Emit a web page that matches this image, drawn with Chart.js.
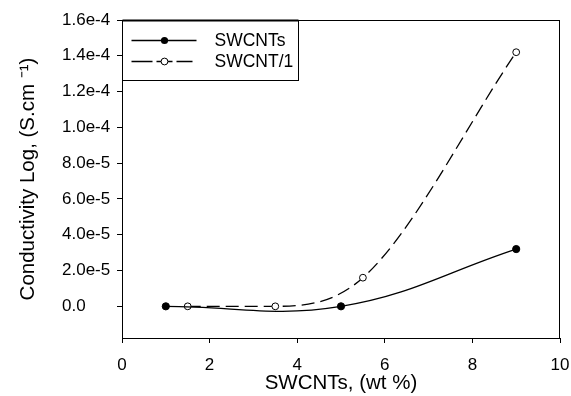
<!DOCTYPE html>
<html><head><meta charset="utf-8">
<script src="https://cdn.jsdelivr.net/npm/chart.js@4"></script>
<style>html,body{margin:0;padding:0;background:#fff}#wrap{width:571px;height:396px}</style>
</head><body><div id="wrap"><canvas id="c" width="571" height="396"></canvas></div>
<script>
const seriesNames = ['SWCNTs', 'SWCNT/1'];
const swcntX = [1, 5, 9];
const swcntY = [0, 0, 3.2e-5];
const swcnt1X = [1.5, 3.5, 5.5, 9];
const swcnt1Y = [0, 0, 1.6e-5, 1.42e-4];
const xTicks = [0, 2, 4, 6, 8, 10];
const yTicks = [0, 2e-5, 4e-5, 6e-5, 8e-5, 1e-4, 1.2e-4, 1.4e-4, 1.6e-4];
const yTickLabels = ['0.0', '2.0e-5', '4.0e-5', '6.0e-5', '8.0e-5', '1.0e-4', '1.2e-4', '1.4e-4', '1.6e-4'];
const xTitle = 'SWCNTs, (wt %)';
const yTitle = 'Conductivity Log, (S.cm \u207B\u00B9)';

const FONT = 'Liberation Sans, Arial, sans-serif';

const framePlugin = {
  id: 'frame',
  afterDatasetsDraw(chart) {
    const {ctx, chartArea: a} = chart;
    ctx.save();
    ctx.strokeStyle = '#000';
    ctx.lineWidth = 1;
    ctx.strokeRect(Math.round(a.left) + 0.5, Math.round(a.top) + 0.5, Math.round(a.right - a.left) - 1, Math.round(a.bottom - a.top));
    // legend box
    const bx = Math.round(a.left) + 0.5, by = Math.round(a.top) + 0.5;
    const bw = 176, bh = 60;
    ctx.fillStyle = '#fff';
    ctx.fillRect(bx, by, bw, bh);
    ctx.strokeRect(bx, by, bw, bh);
    ctx.beginPath(); ctx.moveTo(bx, by); ctx.lineTo(bx + bw, by); ctx.lineWidth = 2; ctx.stroke();
    ctx.lineWidth = 1.3;
    const r1 = by + 20, r2 = by + 41;
    const x0 = bx + 9, x1 = bx + 74, xm = bx + 42;
    ctx.beginPath(); ctx.moveTo(x0, r1); ctx.lineTo(x1, r1); ctx.stroke();
    ctx.beginPath(); ctx.arc(xm, r1, 3.6, 0, Math.PI * 2); ctx.fillStyle = '#000'; ctx.fill();
    ctx.beginPath();
    ctx.moveTo(x0, r2); ctx.lineTo(x0 + 21, r2);
    ctx.moveTo(xm - 8, r2); ctx.lineTo(xm + 8, r2);
    ctx.moveTo(xm + 12, r2); ctx.lineTo(x1 - 4, r2);
    ctx.stroke();
    ctx.beginPath(); ctx.arc(xm, r2, 3.4, 0, Math.PI * 2); ctx.fillStyle = '#fff'; ctx.fill(); ctx.lineWidth = 1; ctx.stroke();
    ctx.fillStyle = '#000';
    ctx.font = '17.5px ' + FONT;
    ctx.textBaseline = 'middle';
    ctx.textAlign = 'left';
    ctx.fillText(seriesNames[0], bx + 92, r1 + 1);
    ctx.fillText(seriesNames[1], bx + 92, r2 + 1);
    ctx.restore();
  }
};

new Chart(document.getElementById('c'), {
  type: 'scatter',
  data: {
    datasets: [
      {
        label: seriesNames[0],
        data: swcntX.map((x, i) => ({x, y: swcntY[i]})),
        showLine: true, borderColor: '#000', borderWidth: 1.3, tension: 0.4,
        pointRadius: 3.6, pointBackgroundColor: '#000', pointBorderColor: '#000', pointBorderWidth: 1
      },
      {
        label: seriesNames[1],
        data: swcnt1X.map((x, i) => ({x, y: swcnt1Y[i]})),
        showLine: true, borderColor: '#000', borderWidth: 1.3, cubicInterpolationMode: 'monotone', tension: 0.4, borderDash: [13, 6],
        pointRadius: 3.4, pointBackgroundColor: '#fff', pointBorderColor: '#000', pointBorderWidth: 1
      }
    ]
  },
  options: {
    responsive: false, animation: false, devicePixelRatio: 1,
    layout: {padding: {top: 20, right: 11, left: 0, bottom: 0}},
    plugins: {
      legend: {display: false}, tooltip: {enabled: false},
      title: {display: true, position: 'left', fullSize: false, text: yTitle, color: '#000',
        font: {family: FONT, size: 20.5, weight: 'normal', lineHeight: 1.2}, padding: {top: 16, bottom: 21.4}}
    },
    scales: {
      x: {
        type: 'linear', min: 0, max: 10,
        afterBuildTicks(s) { s.ticks = xTicks.map(v => ({value: v})); },
        afterFit(s) { s.height = 58; s.paddingLeft = 0; s.paddingRight = 0; },
        grid: {display: true, drawOnChartArea: false, drawTicks: true, tickLength: 5, color: '#000', lineWidth: 1},
        border: {display: true, color: '#000', width: 1},
        ticks: {color: '#000', font: {family: FONT, size: 17}, padding: 12, maxRotation: 0},
        title: {display: true, text: xTitle, color: '#000', font: {family: FONT, size: 20.5}, padding: {top: 0, bottom: 0}}
      },
      y: {
        type: 'linear', min: -1.77e-5, max: 1.6e-4,
        afterBuildTicks(s) { s.ticks = yTicks.map(v => ({value: v})); },
        afterFit(s) { s.width = 60; s.paddingTop = 0; s.paddingBottom = 0; },
        grid: {display: true, drawOnChartArea: false, drawTicks: true, tickLength: 5, color: '#000', lineWidth: 1},
        border: {display: true, color: '#000', width: 1},
        ticks: {color: '#000', font: {family: FONT, size: 17}, padding: 4, crossAlign: 'far',
          callback: (v) => { const i = yTicks.findIndex(t => Math.abs(t - v) < 1e-9); return i >= 0 ? yTickLabels[i] : ''; }},
        title: {display: false}
      }
    }
  },
  plugins: [framePlugin]
});
</script></body></html>
